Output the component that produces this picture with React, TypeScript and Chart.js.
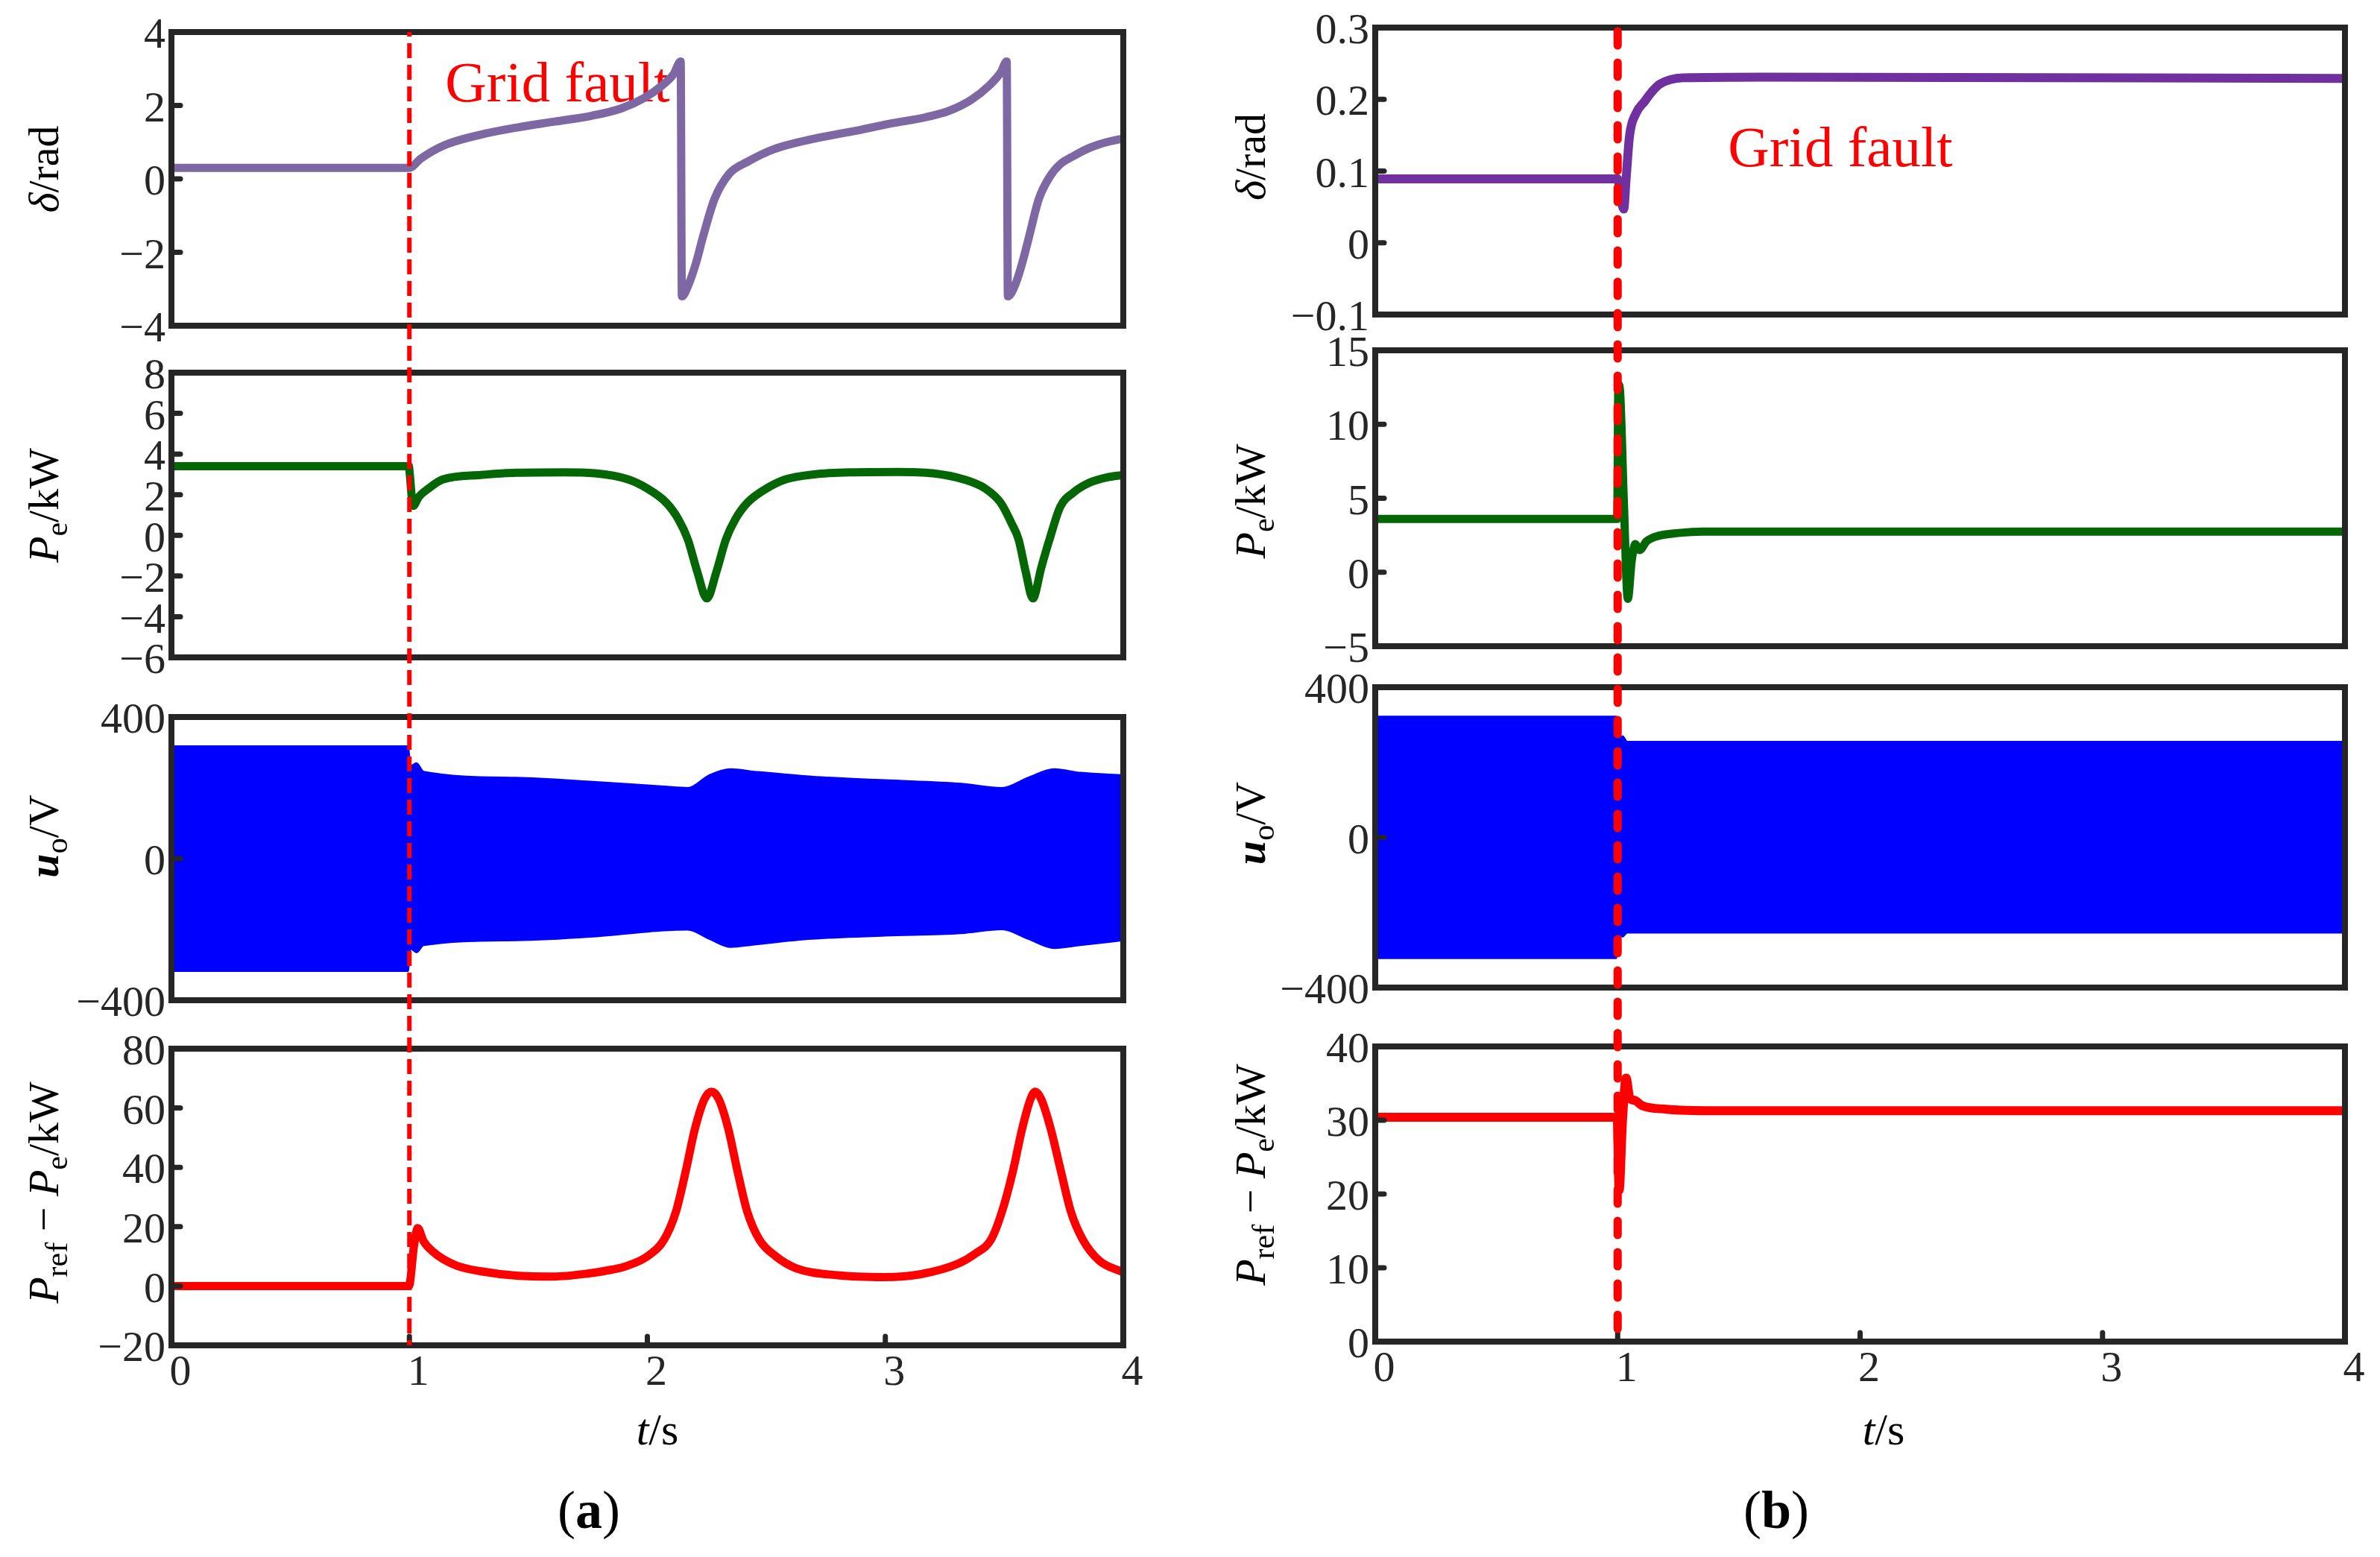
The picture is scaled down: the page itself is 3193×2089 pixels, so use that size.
import React, { useEffect, useRef } from 'react';
import { Chart, registerables } from 'chart.js';

Chart.register(...registerables);

const FONT = "'Liberation Serif', 'Times New Roman', serif";
Chart.defaults.font.family = FONT;
const INK = '#262626';
const FAULT_T = 1;
const X_TICKS = [0, 1, 2, 3, 4];

// ---------------- (a) ----------------
const A_DELTA_T = [0, 1.0, 1.047, 1.141, 1.297, 1.453, 1.61, 1.766, 1.89, 1.985, 2.063, 2.11, 2.14, 2.145, 2.172, 2.204, 2.235, 2.282, 2.344, 2.422, 2.532, 2.704, 2.86, 3.016, 3.17, 3.266, 3.36, 3.438, 3.485, 3.51, 3.515, 3.545, 3.575, 3.605, 3.645, 3.69, 3.735, 3.79, 3.86, 3.93, 4.0];
const A_DELTA_V = [0.3, 0.3, 0.55, 0.9, 1.2, 1.4, 1.56, 1.72, 1.92, 2.2, 2.55, 2.85, 3.2, -3.2, -2.9, -2.3, -1.55, -0.55, 0.14, 0.47, 0.81, 1.1, 1.29, 1.5, 1.68, 1.85, 2.15, 2.55, 2.9, 3.2, -3.2, -2.9, -2.3, -1.55, -0.55, 0.05, 0.4, 0.62, 0.85, 1.0, 1.1];

const A_PE_T = [0, 0.998, 1.0, 1.016, 1.04, 1.08, 1.14, 1.3, 1.45, 1.65, 1.78, 1.92, 2.0, 2.08, 2.13, 2.17, 2.21, 2.25, 2.29, 2.33, 2.37, 2.42, 2.5, 2.58, 2.7, 2.85, 3.05, 3.2, 3.33, 3.42, 3.485, 3.53, 3.56, 3.59, 3.62, 3.655, 3.69, 3.735, 3.79, 3.86, 3.93, 4.0];
const A_PE_V = [3.4, 3.4, 3.2, 1.45, 1.9, 2.3, 2.75, 2.97, 3.08, 3.1, 3.05, 2.75, 2.3, 1.6, 0.8, -0.2, -1.8, -3.1, -1.8, -0.2, 0.8, 1.6, 2.3, 2.75, 3.0, 3.1, 3.12, 3.05, 2.75, 2.3, 1.6, 0.6, -0.2, -1.8, -3.1, -1.6, -0.2, 1.4, 2.1, 2.6, 2.85, 2.97];

const A_UO_T = [0, 0.995, 1.005, 1.03, 1.06, 1.45, 1.76, 2.07, 2.17, 2.26, 2.35, 2.45, 2.69, 3.0, 3.32, 3.49, 3.6, 3.71, 3.82, 4.0];
const A_UO_UP = [318, 318, 262, 270, 246, 229, 218, 204, 200, 236, 253, 246, 232, 222, 212, 200, 229, 253, 243, 236];
const A_UO_LO = [-318, -318, -255, -265, -245, -231, -221, -203, -201, -227, -250, -243, -227, -218, -211, -200, -227, -253, -245, -231];

const A_DP_T = [0, 0.998, 1.02, 1.035, 1.06, 1.1, 1.143, 1.2, 1.297, 1.45, 1.606, 1.75, 1.85, 1.915, 2.0, 2.07, 2.12, 2.162, 2.2, 2.24, 2.27, 2.3, 2.34, 2.378, 2.42, 2.471, 2.54, 2.625, 2.8, 2.996, 3.15, 3.305, 3.38, 3.444, 3.49, 3.537, 3.575, 3.61, 3.63, 3.655, 3.695, 3.737, 3.78, 3.83, 3.9, 4.0];
const A_DP_V = [0, 0, 14, 19.5, 15, 11.5, 9, 6.8, 5, 3.5, 3.2, 4.2, 5.5, 6.8, 10, 15.6, 25, 39, 53, 63, 65.5, 63, 53, 39, 25, 15.6, 10, 6, 3.6, 3, 4, 7.5, 11, 15.6, 25, 39, 53, 63, 65.5, 63, 53, 39, 25, 15.6, 8.5, 4.6];

// ---------------- (b) ----------------
const B_DELTA_T = [0, 1.0, 1.01, 1.025, 1.035, 1.049, 1.075, 1.111, 1.14, 1.173, 1.27, 1.6, 4.0];
const B_DELTA_V = [0.089, 0.089, 0.07, 0.047, 0.09, 0.149, 0.18, 0.197, 0.21, 0.221, 0.23, 0.231, 0.229];

const B_PE_T = [0, 0.998, 1.003, 1.01, 1.025, 1.042, 1.058, 1.073, 1.09, 1.12, 1.166, 1.25, 1.35, 4.0];
const B_PE_V = [3.6, 3.6, 12.7, 12.2, 5, -1.8, 0.8, 1.9, 1.5, 2.1, 2.45, 2.65, 2.75, 2.75];

const B_UO_T = [0, 0.995, 1.005, 1.02, 1.04, 4.0];
const B_UO_UP = [322, 322, 262, 270, 255, 255];
const B_UO_LO = [-322, -322, -258, -265, -254, -254];

const B_DP_T = [0, 0.998, 1.006, 1.02, 1.035, 1.05, 1.07, 1.1, 1.2, 1.4, 4.0];
const B_DP_V = [30.4, 30.4, 20.5, 30, 35.7, 33, 32.7, 32, 31.5, 31.3, 31.3];

// ---------------- tick values ----------------
const A_DELTA_TICKS = [-4, -2, 0, 2, 4];
const A_PE_TICKS = [-6, -4, -2, 0, 2, 4, 6, 8];
const A_UO_TICKS = [-400, 0, 400];
const A_DP_TICKS = [-20, 0, 20, 40, 60, 80];
const B_DELTA_TICKS = [-0.1, 0, 0.1, 0.2, 0.3];
const B_PE_TICKS = [-5, 0, 5, 10, 15];
const B_UO_TICKS = [-400, 0, 400];
const B_DP_TICKS = [0, 10, 20, 30, 40];

type Seg = { text: string; italic?: boolean; bold?: boolean; sub?: boolean };

const T_DELTA: Seg[] = [{ text: 'δ', italic: true }, { text: '/rad' }];
const T_PE: Seg[] = [{ text: 'P', italic: true }, { text: 'e', sub: true }, { text: '/kW' }];
const T_UO: Seg[] = [{ text: 'u', italic: true, bold: true }, { text: 'o', sub: true }, { text: '/V' }];
const T_DP: Seg[] = [
  { text: 'P', italic: true }, { text: 'ref', sub: true }, { text: ' − ' },
  { text: 'P', italic: true }, { text: 'e', sub: true }, { text: '/kW' },
];
const T_X: Seg[] = [{ text: 't', italic: true }, { text: '/s' }];

const fmt = (value: any) => {
  const v = Number(value);
  const s = String(Math.round(Math.abs(v) * 1000) / 1000);
  return v < 0 ? '\u2212' + s : s;
};

function line(t: number[], v: number[], color: string, width: number) {
  return {
    data: t.map((x, i) => ({ x, y: v[i] })),
    borderColor: color,
    backgroundColor: color,
    borderWidth: width,
    pointRadius: 0,
    fill: false,
    cubicInterpolationMode: 'monotone',
    borderCapStyle: 'round',
    borderJoinStyle: 'round',
  };
}

function band(t: number[], up: number[], lo: number[], color: string) {
  return [
    { data: t.map((x, i) => ({ x, y: up[i] })), borderColor: color, borderWidth: 2, pointRadius: 0, fill: false, cubicInterpolationMode: 'monotone' },
    { data: t.map((x, i) => ({ x, y: lo[i] })), borderColor: color, backgroundColor: color, borderWidth: 2, pointRadius: 0, fill: '-1', cubicInterpolationMode: 'monotone' },
  ];
}

function drawRich(ctx: CanvasRenderingContext2D, segs: Seg[], size: number, cx: number, cy: number, rotate: boolean) {
  const sub = Math.round(size * 0.72);
  const fontOf = (s: Seg) => `${s.italic ? 'italic ' : ''}${s.bold ? 'bold ' : ''}${s.sub ? sub : size}px ${FONT}`;
  let total = 0;
  const ws = segs.map((s) => {
    ctx.font = fontOf(s);
    const w = ctx.measureText(s.text).width;
    total += w;
    return w;
  });
  ctx.save();
  ctx.translate(cx, cy);
  if (rotate) ctx.rotate(-Math.PI / 2);
  ctx.fillStyle = '#000';
  ctx.textAlign = 'left';
  ctx.textBaseline = 'alphabetic';
  let x = -total / 2;
  segs.forEach((s, i) => {
    ctx.font = fontOf(s);
    ctx.fillText(s.text, x, s.sub ? size * 0.2 : 0);
    x += ws[i];
  });
  ctx.restore();
}

const COLS = [
  {
    colLeft: 0, boxLeft: 230, boxRight: 1507,
    boxes: [[43, 437], [500, 882], [962, 1342], [1407, 1805]],
    titleX: 78, xTitleX: 882, dash: { w: 6, pat: [20, 9], cap: 'butt' },
    fault: { t: 1.15, v: 2.52 },
    specs: [
      { ticks: A_DELTA_TICKS, ds: [line(A_DELTA_T, A_DELTA_V, '#7E68A4', 11)], title: T_DELTA, dy: -13 },
      { ticks: A_PE_TICKS, ds: [line(A_PE_T, A_PE_V, '#056605', 11)], title: T_PE, dy: -13 },
      { ticks: A_UO_TICKS, ds: band(A_UO_T, A_UO_UP, A_UO_LO, '#0000FF'), title: T_UO, dy: -30 },
      { ticks: A_DP_TICKS, ds: [line(A_DP_T, A_DP_V, '#FF0000', 11)], title: T_DP, dy: -6 },
    ],
  },
  {
    colLeft: 1600, boxLeft: 1845, boxRight: 3146,
    boxes: [[33, 422], [470, 867], [922, 1325], [1404, 1800]],
    titleX: 1697, xTitleX: 2527, dash: { w: 11, pat: [19, 23], cap: 'round' },
    fault: { t: 1.455, v: 0.128 },
    specs: [
      { ticks: B_DELTA_TICKS, ds: [line(B_DELTA_T, B_DELTA_V, '#7030A0', 12)], title: T_DELTA, dy: -17 },
      { ticks: B_PE_TICKS, ds: [line(B_PE_T, B_PE_V, '#056605', 11)], title: T_PE, dy: 4 },
      { ticks: B_UO_TICKS, ds: band(B_UO_T, B_UO_UP, B_UO_LO, '#0000FF'), title: T_UO, dy: -19 },
      { ticks: B_DP_TICKS, ds: [line(B_DP_T, B_DP_V, '#FF0000', 12)], title: T_DP, dy: -26 },
    ],
  },
];

const BOTTOM_Y = 1965;

const PANELS: any[] = [];
COLS.forEach((col) => {
  col.specs.forEach((sp, i) => {
    const [bt, bb] = col.boxes[i];
    const top = i === 0 ? 0 : col.boxes[i - 1][1];
    const bottom = i === 3 ? BOTTOM_Y : bb + 45;
    PANELS.push({ col, sp, i, bt, bb, top, h: bottom - top, w: col.boxRight + 45 - col.colLeft, left: col.colLeft });
  });
});

function makeConfig(p: any) {
  const { col, sp, i, bt, bb, top, h } = p;
  const isBottom = i === 3;
  const ticks: number[] = sp.ticks;
  const tickFont = { family: FONT, size: 58, lineHeight: 1 };
  const deco = {
    id: 'deco' + i,
    beforeDatasetsDraw(chart: any) {
      if (i !== 0) return;
      const { ctx, scales } = chart;
      ctx.save();
      ctx.font = `77px ${FONT}`;
      ctx.fillStyle = '#FF0000';
      ctx.textAlign = 'left';
      ctx.textBaseline = 'middle';
      ctx.fillText('Grid fault', scales.x.getPixelForValue(col.fault.t), scales.y.getPixelForValue(col.fault.v));
      ctx.restore();
    },
    afterDraw(chart: any) {
      const { ctx, chartArea: a, scales } = chart;
      ctx.save();
      // inner tick marks
      ctx.strokeStyle = INK;
      ctx.lineWidth = 7;
      ctx.lineCap = 'round';
      ticks.slice(1, -1).forEach((v) => {
        const py = scales.y.getPixelForValue(v);
        ctx.beginPath();
        ctx.moveTo(a.left, py);
        ctx.lineTo(a.left + 12, py);
        ctx.stroke();
      });
      if (isBottom) {
        X_TICKS.slice(1, -1).forEach((v) => {
          const px = scales.x.getPixelForValue(v);
          ctx.beginPath();
          ctx.moveTo(px, a.bottom);
          ctx.lineTo(px, a.bottom - 12);
          ctx.stroke();
        });
      }
      // frame
      ctx.lineCap = 'butt';
      ctx.lineJoin = 'miter';
      ctx.lineWidth = 8;
      ctx.strokeRect(a.left, a.top, a.right - a.left, a.bottom - a.top);
      // fault marker line
      const fx = scales.x.getPixelForValue(FAULT_T);
      const y0 = i === 0 ? a.top : 0;
      ctx.strokeStyle = '#FF0000';
      ctx.lineWidth = col.dash.w;
      ctx.lineCap = col.dash.cap;
      ctx.setLineDash(col.dash.pat);
      ctx.lineDashOffset = top + y0;
      ctx.beginPath();
      ctx.moveTo(fx, y0);
      ctx.lineTo(fx, a.bottom);
      ctx.stroke();
      ctx.setLineDash([]);
      ctx.restore();
      // titles
      drawRich(ctx, sp.title, 58, col.titleX - col.colLeft, (bt + bb) / 2 + sp.dy - top, true);
      if (isBottom) {
        drawRich(ctx, T_X, 60, col.xTitleX - col.colLeft, 1938 - top, false);
      }
    },
  };
  return {
    type: 'line',
    data: { datasets: sp.ds },
    options: {
      animation: false,
      responsive: false,
      maintainAspectRatio: false,
      events: [],
      layout: { padding: { left: 0, right: 45, top: bt - top, bottom: isBottom ? 0 : h - (bb - top) } },
      plugins: { legend: { display: false }, tooltip: { enabled: false } },
      scales: {
        x: {
          type: 'linear', min: 0, max: 4, display: isBottom,
          grid: { display: false, drawTicks: false }, border: { display: false },
          afterBuildTicks: (s: any) => { s.ticks = X_TICKS.map((v) => ({ value: v })); },
          afterFit: (s: any) => { if (isBottom) s.height = h - (bb - top); },
          ticks: { font: tickFont, color: INK, padding: 9, labelOffset: 12, maxRotation: 0, minRotation: 0, autoSkip: false, callback: fmt },
        },
        y: {
          type: 'linear', min: ticks[0], max: ticks[ticks.length - 1],
          grid: { display: false, drawTicks: false }, border: { display: false },
          afterBuildTicks: (s: any) => { s.ticks = ticks.map((v) => ({ value: v })); },
          afterFit: (s: any) => { s.width = col.boxLeft - col.colLeft; },
          ticks: { font: tickFont, color: INK, padding: 8, labelOffset: 6, autoSkip: false, callback: fmt },
        },
      },
    },
    plugins: [deco],
  };
}

export default function App() {
  const refs = useRef<(HTMLCanvasElement | null)[]>([]);
  useEffect(() => {
    const charts: Chart[] = [];
    PANELS.forEach((p, k) => {
      const c = refs.current[k];
      if (c) charts.push(new Chart(c, makeConfig(p) as any));
    });
    return () => charts.forEach((ch) => ch.destroy());
  }, []);
  const cap = (cx: number, letter: string) => (
    <div style={{ position: 'absolute', left: cx - 100, width: 200, top: 1986, height: 80, lineHeight: '80px', textAlign: 'center', fontFamily: FONT, fontSize: 72, color: '#000' }}>
      (<b>{letter}</b>)
    </div>
  );
  return (
    <div style={{ position: 'absolute', left: 0, top: 0, width: 3193, height: 2089, background: '#fff', overflow: 'hidden' }}>
      {PANELS.map((p, k) => (
        <canvas
          key={k}
          ref={(el) => { refs.current[k] = el; }}
          width={p.w}
          height={p.h}
          style={{ position: 'absolute', left: p.left, top: p.top, width: p.w, height: p.h }}
        />
      ))}
      {cap(790, 'a')}
      {cap(2383, 'b')}
    </div>
  );
}
